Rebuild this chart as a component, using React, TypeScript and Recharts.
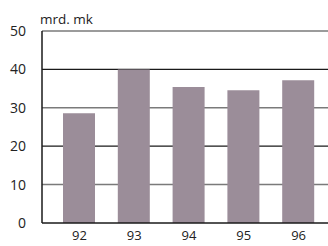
import { Bar, BarChart, CartesianGrid, XAxis, YAxis } from "recharts";

const years = ["92", "93", "94", "95", "96"];
const values = [28.6, 40.0, 35.4, 34.6, 37.2];
const yTicks = [0, 10, 20, 30, 40, 50];
const unitLabel = "mrd. mk";

const data = years.map((year, i) => ({ year, value: values[i] }));

const font = "'Open Sans', sans-serif";

// gridlines alternate: gray / black
function GridLine(props: any) {
  const { x1, x2, y1, y2, index } = props;
  const v = yTicks[index];
  if (v === 0) return null;
  const dark = v % 20 === 0;
  return <line x1={x1} x2={x2} y1={y1} y2={y2} stroke={dark ? "#1a1a1a" : "#7a7a7a"} strokeWidth={dark ? 1.2 : 1.5} />;
}

export default function App() {
  return (
    <div style={{ position: "absolute", left: 0, top: 0, width: 328, height: 246, background: "#fff", overflow: "hidden", fontFamily: font }}>
      <span style={{ position: "absolute", left: 40, top: 10, fontSize: 13.5, color: "#222", whiteSpace: "pre" }}>{unitLabel}</span>
      <BarChart width={328} height={246} data={data} margin={{ top: 31, right: 0, bottom: 0, left: 0 }}>
        <CartesianGrid vertical={false} horizontal={GridLine} horizontalValues={yTicks} />
        <XAxis
          dataKey="year"
          height={23}
          padding={{ left: 10, right: 2 }}
          axisLine={{ stroke: "#1a1a1a", strokeWidth: 1.5 }}
          tickLine={false}
          tickMargin={2}
          tick={{ fontSize: 13, fill: "#222", fontFamily: font }}
        />
        <YAxis
          width={42}
          domain={[0, 50]}
          ticks={yTicks}
          interval={0}
          axisLine={{ stroke: "#1a1a1a", strokeWidth: 1.5 }}
          tickLine={false}
          tickMargin={10}
          tick={{ fontSize: 14, fill: "#222", fontFamily: font }}
        />
        <Bar dataKey="value" fill="#9b8d99" barSize={32} isAnimationActive={false} />
      </BarChart>
    </div>
  );
}
